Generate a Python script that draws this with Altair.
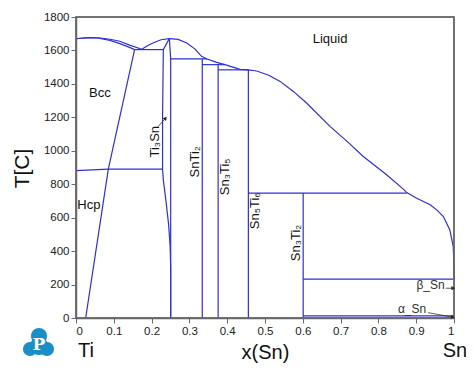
import altair as alt
import pandas as pd

# ---------------- data (x = mole fraction Sn, t = temperature in C) ----------------
liq_ti_x = [0.0, 0.03, 0.06, 0.09, 0.116, 0.14, 0.174]
liq_ti_t = [1670, 1677, 1676, 1667, 1655, 1633, 1607]

bcc_sol_x = [0.0, 0.03, 0.06, 0.09, 0.116, 0.14, 0.155]
bcc_sol_t = [1670, 1676, 1673, 1660, 1641, 1620, 1605]

liq_main_x = [0.174, 0.19, 0.205, 0.225, 0.247, 0.27, 0.293, 0.315, 0.332, 0.347, 0.37, 0.394,
              0.415, 0.434, 0.456, 0.478, 0.51, 0.54, 0.575, 0.61, 0.672, 0.72, 0.76, 0.82,
              0.866, 0.875, 0.9, 0.937, 0.955, 0.972, 0.989, 0.998, 1.0, 1.0]
liq_main_t = [1607, 1630, 1646, 1664, 1671, 1666, 1645, 1608, 1565, 1549, 1530, 1515,
              1500, 1487, 1484, 1477, 1452, 1415, 1355, 1286, 1146, 1050, 966, 860,
              771, 750, 718, 677, 645, 607, 527, 427, 300, 232]

eut_x = [0.155, 0.231]
eut_t = [1605, 1605]

ti3sn_left_x = [0.247, 0.231, 0.229, 0.229, 0.231, 0.238, 0.245, 0.249, 0.2505, 0.2505]
ti3sn_left_t = [1671, 1605, 1200, 890, 826, 700, 560, 430, 300, 0]

ti3sn_right_x = [0.247, 0.2505, 0.2505]
ti3sn_right_t = [1671, 1549, 0]

bcc_bound_x = [0.155, 0.0855, 0.0256]
bcc_bound_t = [1605, 890, 0]

hcp_line_x = [0.0, 0.0855, 0.229]
hcp_line_t = [881, 890, 890]

snti2_v_x = [0.334, 0.334]
snti2_v_t = [1549, 0]
snti2_h_x = [0.2505, 0.347]
snti2_h_t = [1549, 1549]

sn3ti5_v_x = [0.376, 0.376]
sn3ti5_v_t = [1515, 0]
sn3ti5_h_x = [0.334, 0.394]
sn3ti5_h_t = [1515, 1515]

sn5ti6_v_x = [0.456, 0.456]
sn5ti6_v_t = [1484, 0]
sn5ti6_h_x = [0.376, 0.456]
sn5ti6_h_t = [1484, 1484]

sn3ti2_v_x = [0.601, 0.601]
sn3ti2_v_t = [747, 0]
sn3ti2_h_x = [0.456, 0.875]
sn3ti2_h_t = [747, 747]

beta_x = [0.601, 1.0]
beta_t = [232, 232]
alpha_x = [0.601, 1.0]
alpha_t = [13, 13]

# phase labels
region_labels = ["Liquid", "Bcc", "Hcp"]
region_x = [0.672, 0.063, 0.034]
region_t = [1671, 1347, 677]

compound_labels = ["Ti₃Sn", "SnTi₂", "Sn₃Ti₅", "Sn₅Ti₆", "Sn₃Ti₂"]
compound_x = [0.209, 0.315, 0.394, 0.474, 0.582]
compound_t = [1054, 934, 844, 641, 449]

sn_labels = ["β_Sn", "α_Sn"]
sn_label_x = [0.938, 0.889]
sn_label_t = [198, 55]

# annotation arrows (tail -> head)
arrow_names = ["ti3sn", "beta", "alpha"]
arrow_x0 = [0.217, 0.978, 0.931]
arrow_t0 = [1144, 178, 32]
arrow_x1 = [0.237, 0.998, 0.997]
arrow_t1 = [1195, 178, 5]

x_ticks = [0, 0.1, 0.2, 0.3, 0.4, 0.5, 0.6, 0.7, 0.8, 0.9, 1]
y_ticks = [0, 200, 400, 600, 800, 1000, 1200, 1400, 1600, 1800]

# ---------------- build tables ----------------
segments = [
    ("liq_ti", liq_ti_x, liq_ti_t), ("bcc_sol", bcc_sol_x, bcc_sol_t),
    ("liq_main", liq_main_x, liq_main_t), ("eut", eut_x, eut_t),
    ("ti3sn_l", ti3sn_left_x, ti3sn_left_t), ("ti3sn_r", ti3sn_right_x, ti3sn_right_t),
    ("bcc_b", bcc_bound_x, bcc_bound_t), ("hcp", hcp_line_x, hcp_line_t),
    ("snti2_v", snti2_v_x, snti2_v_t), ("snti2_h", snti2_h_x, snti2_h_t),
    ("sn3ti5_v", sn3ti5_v_x, sn3ti5_v_t), ("sn3ti5_h", sn3ti5_h_x, sn3ti5_h_t),
    ("sn5ti6_v", sn5ti6_v_x, sn5ti6_v_t), ("sn5ti6_h", sn5ti6_h_x, sn5ti6_h_t),
    ("sn3ti2_v", sn3ti2_v_x, sn3ti2_v_t), ("sn3ti2_h", sn3ti2_h_x, sn3ti2_h_t),
    ("beta", beta_x, beta_t), ("alpha", alpha_x, alpha_t),
]
rows = []
for name, xs, ts in segments:
    for i, (x, t) in enumerate(zip(xs, ts)):
        rows.append({"seg": name, "i": i, "x": x, "t": t})
lines_df = pd.DataFrame(rows)

arrow_rows = []
for n, a, b, c, d in zip(arrow_names, arrow_x0, arrow_t0, arrow_x1, arrow_t1):
    arrow_rows.append({"seg": n, "i": 0, "x": a, "t": b})
    arrow_rows.append({"seg": n, "i": 1, "x": c, "t": d})
arrow_df = pd.DataFrame(arrow_rows)
head_df = pd.DataFrame({"seg": arrow_names, "x": arrow_x1, "t": arrow_t1,
                        "shape": ["triangle-up", "triangle-right", "triangle-right"],
                        "ang": [41, 0, 12]})

region_df = pd.DataFrame({"label": region_labels, "x": region_x, "t": region_t})
compound_df = pd.DataFrame({"label": compound_labels, "x": compound_x, "t": compound_t})
sn_df = pd.DataFrame({"label": sn_labels, "x": sn_label_x, "t": sn_label_t})

LINE = "#2f2fd6"
FONT = "Liberation Sans"
GRAYAX = "#6a6a6a"

xscale = alt.Scale(domain=[0, 1], nice=False, zero=False)
yscale = alt.Scale(domain=[0, 1800], nice=False)

X = alt.X("x:Q", scale=xscale, axis=alt.Axis(
    values=x_ticks, format="~g", grid=False, labelOverlap=False, title="x(Sn)", titleFontSize=20,
    titleFont=FONT, titleFontWeight="normal", titleColor="#111",
    titleX=189, titleY=34, titleAlign="center", titleBaseline="middle",
    labelFont=FONT, labelFontSize=11.5, labelColor="#222", labelPadding=2,
    tickSize=5, tickColor=GRAYAX, domainColor=GRAYAX, domainWidth=1.5))
Y = alt.Y("t:Q", scale=yscale, axis=alt.Axis(
    values=y_ticks, format="d", grid=False, labelOverlap=False, title="T[C]", titleFontSize=21,
    titleFont=FONT, titleFontWeight="normal", titleColor="#111",
    titleX=-54, titleY=151, titleAngle=-90, titleAlign="center", titleBaseline="middle",
    labelFont=FONT, labelFontSize=11.5, labelColor="#222", labelPadding=2,
    tickSize=5, tickColor=GRAYAX, domainColor=GRAYAX, domainWidth=1.5))

one = pd.DataFrame({"k": [0]})

frame = alt.Chart(one).mark_rect(fillOpacity=0, stroke=GRAYAX, strokeWidth=1.5).encode(
    x=alt.value(0), x2=alt.value(378), y=alt.value(0), y2=alt.value(301))

lines = alt.Chart(lines_df).mark_line(color=LINE, strokeWidth=1.2).encode(
    x=X, y=Y, detail="seg:N", order="i:Q")

arrows = alt.Chart(arrow_df).mark_line(color="#333", strokeWidth=0.8).encode(
    x=X, y=Y, detail="seg:N", order="i:Q")

heads = alt.Chart(head_df).mark_point(filled=True, color="#222", size=18, opacity=1).encode(
    x=X, y=Y,
    shape=alt.Shape("shape:N", scale=None, legend=None),
    angle=alt.Angle("ang:Q", scale=None))

regions = alt.Chart(region_df).mark_text(font=FONT, fontSize=13, color="#111").encode(
    x=X, y=Y, text="label:N")

compounds = alt.Chart(compound_df).mark_text(font=FONT, fontSize=13, color="#111", angle=270).encode(
    x=X, y=Y, text="label:N")

snlab = alt.Chart(sn_df).mark_text(font=FONT, fontSize=12, color="#333").encode(
    x=X, y=Y, text="label:N")

def txt(s, x, y, size):
    return alt.Chart(one).mark_text(text=s, font=FONT, fontSize=size, color="#111",
                                     baseline="middle", align="center").encode(
        x=alt.value(x), y=alt.value(y))

ti_lab = txt("Ti", 10, 334, 20)
sn_lab = txt("Sn", 379, 334, 20)

TEAL = "#1b8ec4"
def blob(x, y, size):
    return alt.Chart(one).mark_point(filled=True, shape="circle", color=TEAL, opacity=1,
                                      size=size, strokeWidth=0).encode(
        x=alt.value(x), y=alt.value(y))

logo = [blob(-37, 319, 260), blob(-46, 332, 200), blob(-29, 332, 200), blob(-37, 329, 330)]
logo_p = alt.Chart(one).mark_text(text="P", font="DejaVu Serif", fontWeight="bold", fontSize=17,
                                  color="white", baseline="middle", align="center").encode(
    x=alt.value(-37), y=alt.value(328))

chart = alt.layer(lines, frame, arrows, heads, regions, compounds, snlab, ti_lab, sn_lab, *logo, logo_p).properties(
    width=378, height=301,
    background="white",
    autosize=alt.AutoSizeParams(type="none"),
    padding={"left": 68, "top": 9, "right": 12, "bottom": 51},
).configure_view(stroke=GRAYAX, strokeWidth=1.5)

chart.save("out.html", embed_options={"renderer": "svg", "actions": False})
